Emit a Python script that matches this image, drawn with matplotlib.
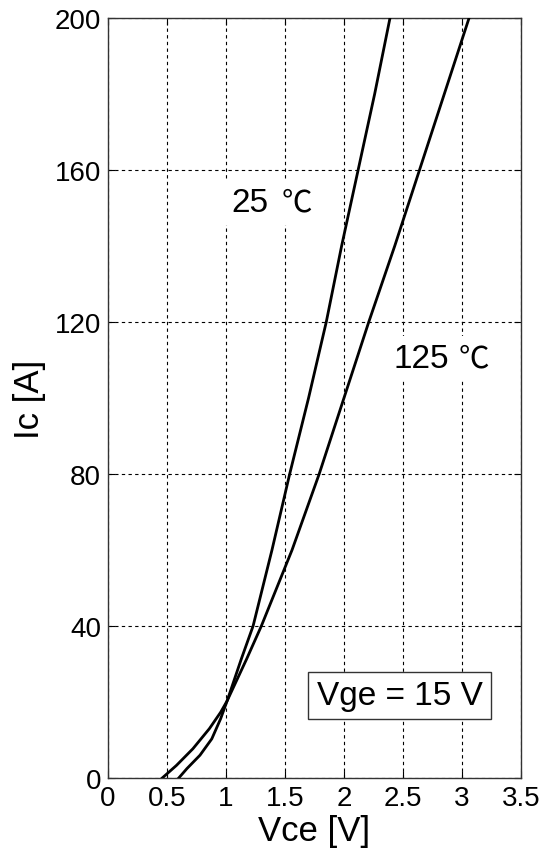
import numpy as np
import matplotlib.pyplot as plt

plt.rcParams['font.family'] = ['Liberation Sans', 'Noto Sans CJK SC', 'DejaVu Sans']

# Vce [V] / Ic [A]
vce_25 = [0.60, 0.67, 0.78, 0.88, 0.955, 1.01, 1.13, 1.23, 1.39, 1.54, 1.70, 1.85, 1.98, 2.12, 2.26, 2.39]
ic_25 = [0, 2.5, 6, 10.3, 15.6, 20.3, 31.3, 40, 60, 80, 100, 120, 140, 160, 180, 200]

vce_125 = [0.46, 0.58, 0.72, 0.86, 0.955, 1.01, 1.175, 1.30, 1.56, 1.79, 2.00, 2.21, 2.43, 2.64, 2.85, 3.06]
ic_125 = [0, 3.3, 7.7, 13, 17.3, 20.3, 31.3, 40, 60, 80, 100, 120, 140, 160, 180, 200]

xticks = [0, 0.5, 1, 1.5, 2, 2.5, 3, 3.5]
xtick_labels = ['0', '0.5', '1', '1.5', '2', '2.5', '3', '3.5']
yticks = [0, 40, 80, 120, 160, 200]

fig = plt.figure(figsize=(5.45, 8.54), dpi=100)
ax = fig.add_axes([0.198, 0.0878, 0.758, 0.890])

ax.plot(vce_25, ic_25, color='black', lw=2.0, zorder=3)
ax.plot(vce_125, ic_125, color='black', lw=2.0, zorder=3)

ax.set_xlim(0, 3.5)
ax.set_ylim(0, 200)
ax.set_xticks(xticks)
ax.set_xticklabels(xtick_labels)
ax.set_yticks(yticks)
ax.tick_params(direction='in', length=5, width=0.8, labelsize=20, top=True, right=True, pad=5)
ax.grid(True, color='black', linestyle=(0, (3, 3)), linewidth=0.8)
for s in ax.spines.values():
    s.set_linewidth(1.0)
    s.set_color('#333333')

ax.set_xlabel('Vce [V]', fontsize=25, labelpad=2)
ax.set_ylabel('Ic [A]', fontsize=25, labelpad=6)

# curve labels (number + degree sign in a lighter font)
box = dict(facecolor='white', edgecolor='none', pad=5)
ax.text(1.05, 151.5, '25', fontsize=24, va='center', ha='left', zorder=2, bbox=box)
ax.text(1.47, 151.5, '℃', fontsize=22, va='center', ha='left', zorder=2, bbox=box,
        family=['Noto Sans CJK SC'], fontweight='light')
ax.text(2.42, 110.5, '125', fontsize=24, va='center', ha='left', zorder=2, bbox=box)
ax.text(2.97, 110.5, '℃', fontsize=22, va='center', ha='left', zorder=2, bbox=box,
        family=['Noto Sans CJK SC'], fontweight='light')

ax.text(2.47, 21.7, 'Vge = 15 V', fontsize=24, va='center', ha='center', zorder=4,
        bbox=dict(facecolor='white', edgecolor='#333333', linewidth=1.0, pad=6))

fig.savefig('out.png', dpi=100)
